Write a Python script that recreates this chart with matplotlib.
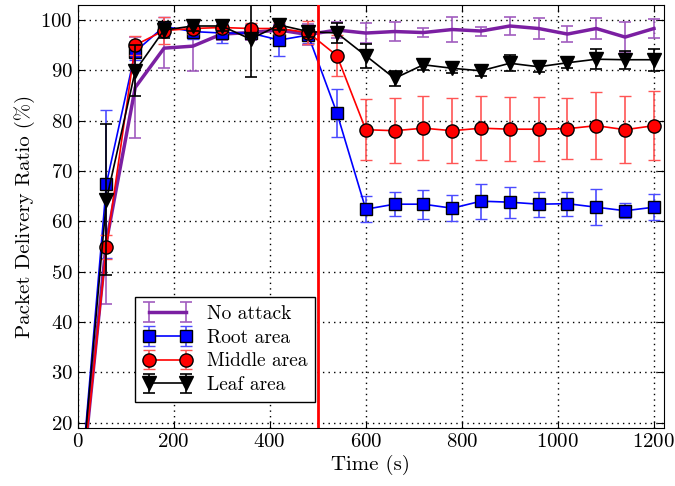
import numpy as np
import matplotlib
matplotlib.use("Agg")
import matplotlib.pyplot as plt

plt.rcParams['font.family'] = 'serif'
plt.rcParams['font.serif'] = ['cmr10', 'DejaVu Serif']
plt.rcParams['mathtext.fontset'] = 'cm'
plt.rcParams['axes.formatter.use_mathtext'] = True

# ---- data ----
t = [0, 60, 120, 180, 240, 300, 360, 420, 480, 540, 600, 660, 720, 780,
     840, 900, 960, 1020, 1080, 1140, 1200]

no_attack = [0, 56.0, 86.6, 94.4, 94.8, 97.2, 97.5, 98.0, 97.1, 98.0, 97.4, 97.7,
             97.5, 98.1, 97.8, 98.8, 98.3, 97.2, 98.3, 96.6, 98.3]
no_attack_err = [0, 12.5, 10.0, 4.0, 4.9, 1.2, 1.5, 1.0, 2.1, 1.5, 2.0, 1.9,
                 0.9, 2.4, 0.9, 1.7, 2.0, 1.6, 2.0, 2.9, 1.9]

root = [0, 67.5, 93.7, 98.7, 97.7, 97.4, 97.4, 96.0, 97.0, 81.5, 62.4, 63.4,
        63.4, 62.6, 64.0, 63.8, 63.4, 63.5, 62.8, 62.1, 62.8]
root_err = [0, 14.7, 1.7, 1.8, 1.5, 2.0, 1.0, 3.1, 1.5, 4.8, 2.6, 2.4,
            2.9, 2.6, 3.5, 3.1, 2.5, 2.4, 3.6, 1.5, 2.6]

middle = [0, 54.9, 95.0, 97.9, 98.3, 98.5, 98.3, 98.3, 97.5, 92.9, 78.2, 78.0,
          78.5, 78.0, 78.5, 78.3, 78.3, 78.4, 79.0, 78.2, 79.0]
middle_err = [0, 2.4, 1.9, 2.7, 1.0, 1.0, 1.0, 1.0, 2.2, 4.1, 6.0, 6.4,
              6.3, 6.4, 6.3, 6.3, 6.3, 6.0, 6.7, 6.6, 6.8]

leaf = [0, 64.3, 89.9, 98.0, 98.8, 98.8, 96.2, 99.0, 97.7, 97.4, 92.9, 88.4,
        91.1, 90.4, 89.9, 91.4, 90.7, 91.5, 92.2, 92.1, 92.1]
leaf_err = [0, 15.0, 5.1, 1.5, 1.0, 1.0, 7.6, 1.0, 1.0, 1.9, 2.4, 1.5,
            1.0, 1.0, 1.0, 1.6, 1.0, 1.0, 2.0, 1.8, 2.2]

attack_time = 500

fig = plt.figure(figsize=(6.75, 4.86), dpi=100)
ax = fig.add_axes([0.115, 0.12, 0.868, 0.87])

ax.errorbar(t, no_attack, yerr=no_attack_err, color='#7b1fa2', lw=2.5,
            ecolor='#a15cbf', elinewidth=1.2, capsize=4, capthick=1.2,
            label='No attack', zorder=2)
ax.errorbar(t, root, yerr=root_err, color='blue', lw=1.2, marker='s', ms=9,
            mfc='blue', mec='black', mew=1, ecolor='#4b4bff', elinewidth=1.2,
            capsize=4, capthick=1.2, label='Root area', zorder=3)
ax.errorbar(t, middle, yerr=middle_err, color='red', lw=1.2, marker='o', ms=9.5,
            mfc='red', mec='black', mew=1, ecolor='#ff5555', elinewidth=1.2,
            capsize=4, capthick=1.2, label='Middle area', zorder=4)
ax.errorbar(t, leaf, yerr=leaf_err, color='black', lw=1.2, marker='v', ms=10,
            mfc='black', mec='black', ecolor='black', elinewidth=1.2,
            capsize=4, capthick=1.2, label='Leaf area', zorder=5)

ax.axvline(attack_time, color='red', lw=2, zorder=6)

ax.set_xlim(0, 1220)
ax.set_ylim(19, 103)
ax.set_xticks([0, 200, 400, 600, 800, 1000, 1200])
ax.set_yticks([20, 30, 40, 50, 60, 70, 80, 90, 100])
ax.tick_params(direction='in', top=True, right=True, labelsize=15, length=5)
ax.grid(True, color='black', linestyle=(0, (1, 3)), lw=1)
ax.set_xlabel('Time (s)', fontsize=15, labelpad=3)
ax.set_ylabel('Packet Delivery Ratio (%)', fontsize=15, labelpad=4)

leg = ax.legend(loc='lower left', bbox_to_anchor=(0.098, 0.061), borderaxespad=0,
                fontsize=14, fancybox=False, edgecolor='black', framealpha=1,
                handlelength=2.5, numpoints=2, labelspacing=0.3)
leg.get_frame().set_linewidth(1)

plt.savefig('out.png', dpi=100)
